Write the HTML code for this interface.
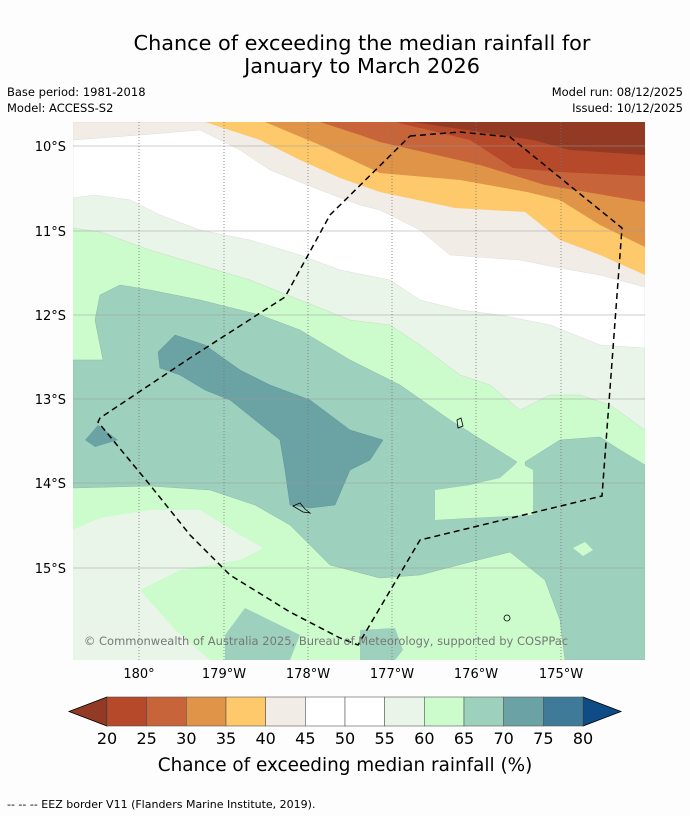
<!DOCTYPE html>
<html><head><meta charset="utf-8"><style>
body{margin:0;background:#fdfdfd;font-family:"DejaVu Sans","Liberation Sans",sans-serif;}
svg{display:block}
</style></head><body>
<svg width="690" height="816" viewBox="0 0 690 816" font-family="DejaVu Sans, Liberation Sans, sans-serif">
<text x="362" y="50" text-anchor="middle" font-size="20.8" fill="#000">Chance of exceeding the median rainfall for</text>
<text x="362" y="73" text-anchor="middle" font-size="20.8" fill="#000">January to March 2026</text>
<text x="7" y="96" font-size="11.5">Base period: 1981-2018</text>
<text x="7" y="112" font-size="11.5">Model: ACCESS-S2</text>
<text x="683" y="96" font-size="11.5" text-anchor="end">Model run: 08/12/2025</text>
<text x="683" y="112" font-size="11.5" text-anchor="end">Issued: 10/12/2025</text>
<defs><clipPath id="mc"><rect x="73" y="122" width="572" height="538"/></clipPath></defs>
<g clip-path="url(#mc)">
<rect x="73" y="122" width="572" height="538" fill="#ccfccc"/>
<polygon fill="#9ed1bd" stroke="#8fb8a8" stroke-width="0.5" points="73,360 103,360 95,320 100,295 120,285 150,290 200,300 260,315 300,330 350,360 400,385 450,420 490,445 517,462 500,480 470,485 435,490 435,520 470,518 533,515 525,462 560,440 600,437 620,450 645,465 645,660 565,660 560,620 545,580 510,552 470,562 420,575 380,578 330,565 290,525 255,505 210,490 150,486 73,488"/>
<polygon fill="#ccfccc" points="435,490 470,485 500,478 518,462 533,470 533,515 470,518 435,520"/>
<polygon fill="#9ed1bd" points="225,635 245,608 300,635 290,660 225,660"/>
<polygon fill="#9ed1bd" points="360,630 395,628 403,650 395,660 360,660"/>
<polygon fill="#ccfccc" points="573,548 585,542 593,550 583,556"/>
<polygon fill="#eaf5e9" points="73,530 100,518 150,510 200,510 240,535 263,548 240,560 180,570 140,590 175,630 210,660 73,660"/>
<polygon fill="#6ba3a5" stroke="#5f9496" stroke-width="0.5" points="158,352 175,335 205,345 240,370 270,385 310,400 350,430 383,440 370,460 350,470 335,505 310,508 290,505 285,470 280,440 255,420 230,400 205,390 180,375 160,368"/>
<polygon fill="#6ba3a5" points="85,440 98,425 118,440 95,447"/>
<polygon fill="#eaf5e9" stroke="#c8d8c8" stroke-width="0.5" points="73,122 645,122 645,430 610,405 580,395 550,395 520,410 490,385 460,375 420,345 390,325 350,320 300,300 250,280 200,265 150,250 100,232 73,228"/>
<polygon fill="#ffffff" stroke="#ddd" stroke-width="0.5" points="73,122 645,122 645,348 600,345 550,325 500,315 460,310 420,300 390,280 340,270 300,255 250,240 200,230 160,215 130,200 95,195 73,198"/>
<polygon fill="#f2ece6" stroke="#ddd" stroke-width="0.5" points="73,122 645,122 645,287 600,275 560,268 520,260 450,255 420,230 380,210 360,205 320,190 270,170 240,150 200,130 140,135 73,140"/>
<polygon fill="#fdc96a" points="205,122 645,122 645,275 600,255 560,240 525,212 455,208 380,192 340,178 300,160 260,140"/>
<polygon fill="#e09448" points="265,122 645,122 645,247 600,225 560,200 527,192 460,180 380,173 320,145"/>
<polygon fill="#c8643a" points="320,122 645,122 645,202 545,185 480,165 380,142 360,135"/>
<polygon fill="#b5492a" points="395,122 645,122 645,176 560,172 513,168 470,140"/>
<polygon fill="#923a24" points="413,122 645,122 645,155 570,150 533,140"/>
<g stroke="#999" stroke-width="0.6">
<line x1="73" y1="146" x2="645" y2="146"/><line x1="73" y1="231" x2="645" y2="231"/><line x1="73" y1="315" x2="645" y2="315"/><line x1="73" y1="399" x2="645" y2="399"/><line x1="73" y1="483" x2="645" y2="483"/><line x1="73" y1="568" x2="645" y2="568"/>
</g>
<g stroke="#777" stroke-width="0.8" stroke-dasharray="1,2">
<line x1="139" y1="122" x2="139" y2="660"/><line x1="224" y1="122" x2="224" y2="660"/><line x1="308" y1="122" x2="308" y2="660"/><line x1="392" y1="122" x2="392" y2="660"/><line x1="476" y1="122" x2="476" y2="660"/><line x1="561" y1="122" x2="561" y2="660"/>
</g>
<polyline fill="none" stroke="#000" stroke-width="1.5" stroke-dasharray="6,4" points="410,136 460,132 510,137 622,228 602,496 420,540 358,645 340,638 290,612 230,575 190,535 150,485 98,422 100,418 190,358 285,297 330,215 410,136"/>
<path d="M293,506 L300,503 L305,509 L310,513 L303,512 Z" fill="none" stroke="#000" stroke-width="0.8"/>
<path d="M457,420 L461,418 L463,426 L458,428 Z" fill="none" stroke="#000" stroke-width="0.8"/>
<circle cx="507" cy="618" r="3" fill="none" stroke="#000" stroke-width="0.8"/>
<text x="326" y="645" text-anchor="middle" font-size="11.5" fill="#777">© Commonwealth of Australia 2025, Bureau of Meteorology, supported by COSPPac</text>
</g>
<g font-size="13" fill="#000">
<text x="66" y="151" text-anchor="end">10°S</text><text x="66" y="236" text-anchor="end">11°S</text><text x="66" y="320" text-anchor="end">12°S</text><text x="66" y="404" text-anchor="end">13°S</text><text x="66" y="488" text-anchor="end">14°S</text><text x="66" y="573" text-anchor="end">15°S</text>
</g>
<g font-size="13" fill="#000" text-anchor="middle">
<text x="139" y="678">180°</text><text x="224" y="678">179°W</text><text x="308" y="678">178°W</text><text x="392" y="678">177°W</text><text x="476" y="678">176°W</text><text x="561" y="678">175°W</text>
</g>
<g id="cbar"></g>
<text x="345" y="771" text-anchor="middle" font-size="18.4">Chance of exceeding median rainfall (%)</text>
<text x="7" y="808" font-size="11">-- -- -- EEZ border V11 (Flanders Marine Institute, 2019).</text>
</svg>
<script>
const levels=[20,25,30,35,40,45,50,55,60,65,70,75,80];
const binColors=["#b5492a","#c8643a","#e09448","#fdc96a","#f2ece6","#ffffff","#ffffff","#eaf5e9","#ccfccc","#9ed1bd","#6ba3a5","#3f7a98"];
const underColor="#923a24", overColor="#0f4c86";
const ns="http://www.w3.org/2000/svg", g=document.getElementById('cbar');
const x0=107,x1=583,y0=697,y1=726;
function xs(v){return x0+(v-levels[0])/(levels[levels.length-1]-levels[0])*(x1-x0);}
function mk(t,a){const e=document.createElementNS(ns,t);for(const k in a)e.setAttribute(k,a[k]);g.appendChild(e);return e;}
let u=mk('polygon',{points:`${x0},${y0} 69,${(y0+y1)/2} ${x0},${y1}`,fill:underColor,stroke:'#000','stroke-width':0.8});


let o=mk('polygon',{points:`${x1},${y0} 621,${(y0+y1)/2} ${x1},${y1}`,fill:overColor,stroke:'#000','stroke-width':0.8});


for(let i=0;i<binColors.length;i++){
 const r=mk('rect',{x:xs(levels[i]),y:y0,width:xs(levels[i+1])-xs(levels[i]),height:y1-y0,fill:binColors[i],stroke:'#555','stroke-width':0.6});
 
 
}
for(const v of levels){
 const t=mk('text',{x:xs(v),y:744,'text-anchor':'middle','font-size':16});
 t.textContent=v;
 
 
}
</script>
</body></html>
